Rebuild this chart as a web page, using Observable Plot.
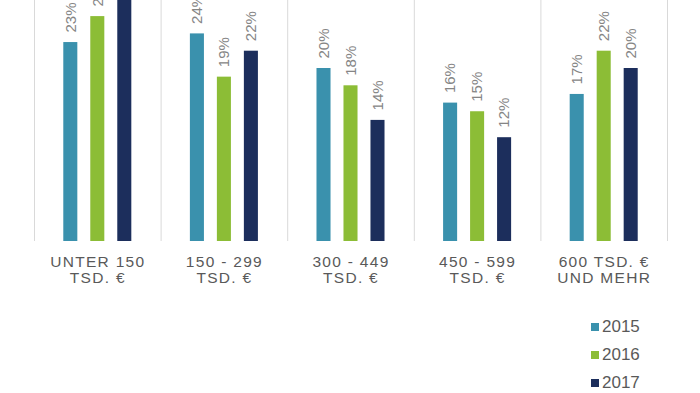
<!DOCTYPE html>
<html>
<head>
<meta charset="utf-8">
<script src="https://cdn.jsdelivr.net/npm/d3@7"></script>
<script src="https://cdn.jsdelivr.net/npm/@observablehq/plot@0.6"></script>
<style>
  html, body { margin: 0; padding: 0; background: #fff; }
  #wrap { position: relative; width: 700px; height: 393px; overflow: hidden; font-family: "Liberation Sans", Arial, sans-serif; }
  #legend { position: absolute; left: 591px; top: 313px; }
  .item { display: flex; align-items: center; height: 28px; color: #595959; font-size: 17px; }
  .sw { width: 8px; height: 8px; margin-right: 3px; }
</style>
</head>
<body>
<div id="wrap"><div id="chart"></div><div id="legend"></div></div>
<script>
const categories = ["UNTER 150\nTSD. €", "150 - 299\nTSD. €", "300 - 449\nTSD. €", "450 - 599\nTSD. €", "600 TSD. €\nUND MEHR"];
const years = ["2015", "2016", "2017"];
const colors = ["#3a91ad", "#8cbd36", "#1c2e5c"];
const values2015 = [23, 24, 20, 16, 17];
const values2016 = [26, 19, 18, 15, 22];
const values2017 = [30, 22, 14, 12, 20];

const series = [values2015, values2016, values2017];
const data = [];
categories.forEach((c, i) => years.forEach((y, j) => data.push({category: c, year: y, value: series[j][i]})));

const width = 700, height = 300, mL = 34, mR = 33, mB = 59;
const pInner = 0.48, pOuter = 1.085;
const facetW = (width - mL - mR) / categories.length;
const step = facetW / (years.length - pInner + 2 * pOuter);
const firstCenter = pOuter * step + (1 - pInner) * step / 2;

const chart = Plot.plot({
  width, height,
  marginLeft: mL, marginRight: mR, marginTop: 0, marginBottom: mB,
  style: {fontFamily: "'Liberation Sans', Arial, sans-serif", background: "#fff"},
  fx: {domain: categories, padding: 0, round: false, axis: null},
  x: {domain: years, paddingInner: pInner, paddingOuter: pOuter, round: false, axis: null},
  y: {domain: [0, 241 / 8.65], axis: null},
  color: {domain: years, range: colors},
  marks: [
    Plot.ruleX(categories, {fx: d => d, x: () => years[0], dx: -firstCenter, stroke: "#d9d9d9", strokeWidth: 1}),
    Plot.ruleX([categories[categories.length - 1]], {fx: d => d, x: () => years[years.length - 1], dx: firstCenter, stroke: "#d9d9d9", strokeWidth: 1}),
    Plot.barY(data, {fx: "category", x: "year", y: "value", fill: "year"}),
    Plot.text(data, {fx: "category", x: "year", y: "value", text: d => d.value + "%", rotate: -90, textAnchor: "start", dy: -10, fontSize: 15, fill: "#858585"}),
    Plot.text(categories, {fx: d => d, text: d => d, frameAnchor: "bottom", lineAnchor: "top", dy: 14, lineHeight: 1.03, fontSize: 15.5, fill: "#595959"})
  ]
});
// letter spacing for the category labels (last text mark)
const textGroups = d3.select(chart).selectAll('g[aria-label="text"]').nodes();
if (textGroups.length) d3.select(textGroups[textGroups.length - 1]).style("letter-spacing", "1.3px");
document.getElementById("chart").appendChild(chart);

const legend = document.getElementById("legend");
years.forEach((y, j) => {
  const item = document.createElement("div");
  item.className = "item";
  const sw = document.createElement("div");
  sw.className = "sw";
  sw.style.background = colors[j];
  const t = document.createElement("span");
  t.textContent = y;
  item.appendChild(sw); item.appendChild(t);
  legend.appendChild(item);
});
</script>
</body>
</html>
